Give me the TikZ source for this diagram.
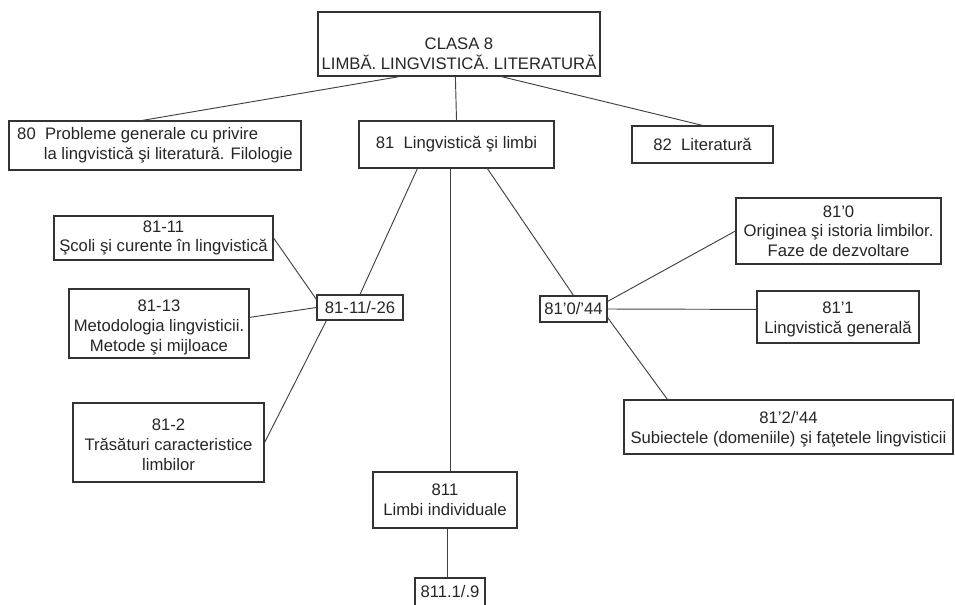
\documentclass[tikz,border=0pt]{standalone}
\usepackage{fontspec}
\setmainfont{Liberation Sans}
\usetikzlibrary{positioning,calc}

\tikzset{
  box/.style={draw=black!80, line width=0.9pt, fill=white, align=center, inner sep=1pt, text=black!85},
  boxsize/.style 2 args={minimum width=#1*0.75pt, minimum height=#2*0.75pt},
  link/.style={draw=black!75, line width=0.7pt},
}

\begin{document}
\begin{tikzpicture}[x=0.75pt, y=-0.75pt, font=\fontsize{12.5}{14.8}\selectfont]
  \useasboundingbox (0,0) rectangle (955,604);
  % class and main divisions
  \node[box, boxsize={282}{64}, text height=38pt] (cls) at (459,44) {CLASA 8\\LIMBĂ. LINGVISTICĂ. LITERATURĂ};
  \node[box, boxsize={292}{49}, align=left] (d80) at (155,145.5) {80\ \ Probleme generale cu privire\\\hspace*{20pt}la lingvistică şi literatură. Filologie};
  \node[box, boxsize={195}{47}] (d81) at (456.5,144.5) {81\ \ Lingvistică şi limbi};
  \node[box, boxsize={141}{37}] (d82) at (702.5,144.5) {82\ \ Literatură};
  % 81-11/-26 group
  \node[box, boxsize={86}{25}] (d8126) at (360,307.5) {81-11/-26};
  \node[box, boxsize={219}{44}] (d8111) at (163.5,238) {81-11\\Şcoli şi curente în lingvistică};
  \node[box, boxsize={180}{69}, text height=44pt] (d8113) at (159,323.5) {81-13\\Metodologia lingvisticii.\\Metode şi mijloace};
  \node[box, boxsize={191}{79}, text height=42pt] (d812) at (168.5,442.5) {81-2\\Trăsături caracteristice\\limbilor};
  % 81'0/'44 group
  \node[box, boxsize={67}{26}] (d8144) at (573.5,309) {81'0/'44};
  \node[box, boxsize={205}{66}] (d810) at (838.5,231) {81'0\\Originea şi istoria limbilor.\\Faze de dezvoltare};
  \node[box, boxsize={162}{52}, text height=27pt] (d811) at (838,317) {81'1\\Lingvistică generală};
  \node[box, boxsize={329}{54}, text height=27pt] (d8124) at (788.5,427) {81'2/'44\\Subiectele (domeniile) şi faţetele lingvisticii};
  % individual languages
  \node[box, boxsize={144}{56}] (d8ind) at (445,500) {811\\Limbi individuale};
  \node[box, boxsize={70}{28}] (d8119) at (450,592) {811.1/.9};

  % links from the class
  \draw[link] ($(cls.south west)+(82,0)$) -- ($(d80.north west)+(134,0)$);
  \draw[link] ($(cls.south west)+(138,0)$) -- (d81.north);
  \draw[link] ($(cls.south west)+(184,0)$) -- (d82.north);
  % links from 81
  \draw[link] ($(d81.south west)+(59,0)$) -- (d8126.north);
  \draw[link] ($(d81.south west)+(129,0)$) -- (d8144.north);
  \draw[link] ($(d81.south west)+(92,0)$) -- ($(d8ind.north west)+(78,0)$);
  \draw[link] (d8111.east) -- ($(d8126.north west)+(0,5)$);
  \draw[link] ($(d8113.north east)+(0,29)$) -- (d8126.west);
  \draw[link] (d812.east) -- ($(d8126.south west)+(10,0)$);
  \draw[link] ($(d8144.north east)+(0,6)$) -- (d810.west);
  \draw[link] (d8144.east) -- ($(d811.north west)+(0,19)$);
  \draw[link] ($(d8144.south east)+(0,-5)$) -- ($(d8124.north west)+(44,0)$);
  \draw[link] ($(d8ind.south west)+(75,0)$) -- ($(d8119.north west)+(33,0)$);
\end{tikzpicture}
\end{document}
